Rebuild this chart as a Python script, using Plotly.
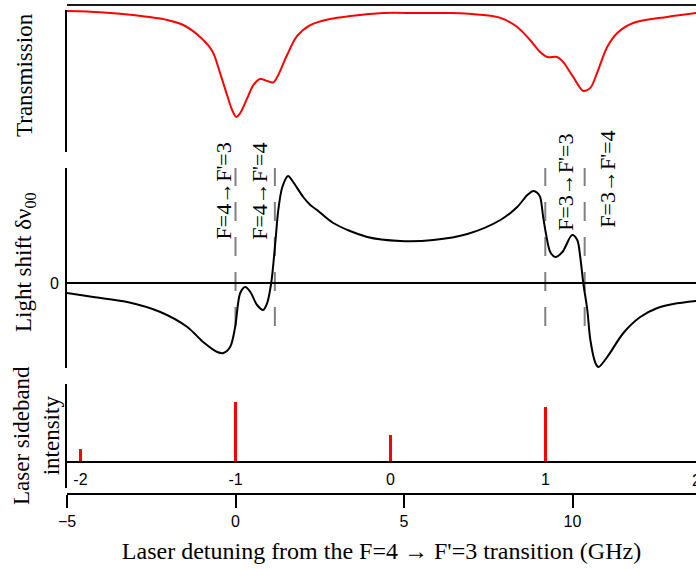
import plotly.graph_objects as go

# ---------------------------------------------------------------- data
# Probe transmission through the Cs cell vs. laser detuning (GHz)
trans_detuning = [-5.0, -4.02, -3.04, -2.03, -1.55, -1.05, -0.69, -0.45, -0.25, -0.10,
                  0.02, 0.14, 0.35, 0.53, 0.73, 0.94, 1.12, 1.27, 1.53, 1.83,
                  2.22, 2.81, 3.40, 4.38, 5.39, 6.37, 7.36, 7.86, 8.36, 8.74,
                  9.04, 9.25, 9.54, 9.72, 10.02, 10.32, 10.53, 10.73, 11.03, 11.33,
                  11.80, 12.81, 13.67]
transmission = [0.995, 0.989, 0.975, 0.951, 0.926, 0.867, 0.798, 0.685, 0.581, 0.507,
                0.473, 0.492, 0.566, 0.630, 0.660, 0.650, 0.643, 0.680, 0.778, 0.872,
                0.926, 0.956, 0.970, 0.985, 0.985, 0.985, 0.975, 0.961, 0.916, 0.852,
                0.793, 0.768, 0.768, 0.744, 0.670, 0.601, 0.616, 0.690, 0.818, 0.887,
                0.936, 0.966, 0.985]

# Light shift of the 0-0 clock transition (arbitrary units)
shift_detuning = [-5.0, -4.22, -3.21, -2.23, -1.43, -0.96, -0.54, -0.36, -0.16, -0.01,
                  0.14, 0.29, 0.44, 0.64, 0.82, 0.94, 1.06, 1.18, 1.27, 1.39,
                  1.56, 1.71, 2.01, 2.22, 2.42, 2.90, 3.91, 4.89, 5.87, 6.88,
                  7.86, 8.36, 8.66, 8.84, 8.96, 9.04, 9.13, 9.22, 9.34, 9.49,
                  9.70, 9.99, 10.14, 10.23, 10.32, 10.44, 10.53, 10.68, 10.77, 11.03,
                  11.51, 12.01, 12.52, 12.99, 13.67]
light_shift = [-0.10, -0.14, -0.19, -0.29, -0.44, -0.59, -0.69, -0.70, -0.64, -0.44,
               -0.10, -0.04, -0.09, -0.22, -0.27, -0.20, 0.00, 0.40, 0.73, 0.96,
               1.07, 1.01, 0.86, 0.78, 0.73, 0.60, 0.46, 0.42, 0.43, 0.49,
               0.63, 0.76, 0.88, 0.92, 0.90, 0.86, 0.66, 0.48, 0.31, 0.26,
               0.31, 0.48, 0.43, 0.26, 0.00, -0.27, -0.57, -0.80, -0.84, -0.74,
               -0.50, -0.34, -0.25, -0.21, -0.18]

# Hyperfine transitions of the Cs D1 line (GHz from F=4 -> F'=3)
transition_names = ["F=4→F'=3", "F=4→F'=4", "F=3→F'=3", "F=3→F'=4"]
transition_freq = [0.0, 1.168, 9.193, 10.361]

# Laser sidebands: carrier offset and modulation frequency (GHz)
carrier_offset = 4.6
modulation_freq = 4.6
sideband_order = [-2, -1, 0, 1]
sideband_intensity = [0.167, 0.773, 0.346, 0.709]
next_order = 2

# ---------------------------------------------------------------- layout helpers
W, H = 696, 569
ML, MR, MT, MB = 67, 0, 0, 75
PH = H - MT - MB
X_RANGE = [-5.0, -5.0 + (W - ML - MR) / 33.7]


def frac(py):
    """Pixel row inside the plot area -> paper fraction."""
    return (PH - py) / PH


Y1_DOM, Y1_RNG = [frac(152), frac(10)], [0.3, 1.0]
Y2_DOM, Y2_RNG = [frac(368), frac(168)], [-0.85, 1.15]
Y3_DOM, Y3_RNG = [frac(488), frac(384)], [-0.333, 1.0]
sideband_axis_pos = Y3_DOM[0] + (0 - Y3_RNG[0]) / (Y3_RNG[1] - Y3_RNG[0]) * (Y3_DOM[1] - Y3_DOM[0])

sideband_pos = [carrier_offset + n * modulation_freq for n in sideband_order]
next_pos = carrier_offset + next_order * modulation_freq

SERIF = "Liberation Serif"
SANS = "Liberation Sans"

fig = go.Figure()

fig.add_trace(go.Scatter(
    x=trans_detuning, y=transmission, xaxis="x", yaxis="y",
    mode="lines", line=dict(color="#ff0000", width=2, shape="spline", smoothing=0.9),
    showlegend=False, hoverinfo="skip"))

fig.add_trace(go.Scatter(
    x=shift_detuning, y=light_shift, xaxis="x", yaxis="y2",
    mode="lines", line=dict(color="black", width=2, shape="spline", smoothing=0.9),
    showlegend=False, hoverinfo="skip"))

fig.add_trace(go.Bar(
    x=sideband_pos, y=sideband_intensity, xaxis="x2", yaxis="y3",
    width=[0.075, 0.105, 0.065, 0.1], marker=dict(color="#ff0000", line=dict(width=0)),
    showlegend=False, hoverinfo="skip"))

# dashed markers at the hyperfine transitions
for f in transition_freq:
    fig.add_shape(type="line", xref="x", yref="y2", x0=f, x1=f, y0=1.16, y1=-0.44,
                  line=dict(color="#808080", width=2, dash="19px,16px"), layer="below")

label_shift = [-13, -16, 20, 22]
label_y = [0.92, 0.92, 1.005, 1.04]
for name, f, dx, yy in zip(transition_names, transition_freq, label_shift, label_y):
    fig.add_annotation(x=f, y=yy, xref="x", yref="y2", text=name, textangle=-90,
                       xanchor="center", yanchor="middle",
                       showarrow=False, xshift=dx, font=dict(family=SERIF, size=22, color="black"))

# reference line above the transmission trace
fig.add_shape(type="line", xref="paper", yref="paper", x0=0, x1=1, y0=frac(5), y1=frac(5),
              line=dict(color="#1a1a1a", width=2))

# y-axis titles
ytitle_font = dict(family=SERIF, size=23, color="black")
fig.add_annotation(text="Transmission", x=0, y=0.5, xref="paper", yref="y domain",
                   xanchor="center", yanchor="middle",
                   xshift=-43, yshift=6, textangle=-90, showarrow=False, font=ytitle_font)
fig.add_annotation(text="Light shift δν<sub>00</sub>", x=0, y=0.5, xref="paper", yref="y2 domain",
                   xanchor="center", yanchor="middle",
                   xshift=-42, yshift=6, textangle=-90, showarrow=False, font=ytitle_font)
fig.add_annotation(text="Laser sideband<br>intensity", x=0, y=0.5, xref="paper", yref="y3 domain",
                   xanchor="center", yanchor="middle",
                   xshift=-31, yshift=0, textangle=-90, showarrow=False, font=ytitle_font)

# label of the next sideband order, kept just inside the right edge
fig.add_annotation(text=str(next_order), xref="paper", yref="paper",
                   x=(next_pos - X_RANGE[0]) / (X_RANGE[1] - X_RANGE[0]), y=sideband_axis_pos,
                   xanchor="center", yanchor="top", xshift=-4, yshift=-8, showarrow=False,
                   font=dict(family=SANS, size=16, color="black"))

axis_line = dict(showline=True, linecolor="black", linewidth=2, showgrid=False, zeroline=False)

fig.update_layout(
    width=W, height=H,
    margin=dict(l=ML, r=MR, t=MT, b=MB, pad=0),
    paper_bgcolor="white", plot_bgcolor="white",
    bargap=0,
    xaxis=dict(range=X_RANGE, anchor="free", position=0, **axis_line,
               ticks="outside", ticklen=13, tickwidth=2, tickcolor="black",
               tickvals=[-5, 0, 5, 10], tickfont=dict(family=SANS, size=16, color="black"),
               title=dict(text="Laser detuning from the F=4 → F'=3 transition (GHz)",
                          font=dict(family=SERIF, size=24, color="black"), standoff=12)),
    xaxis2=dict(range=X_RANGE, anchor="free", position=sideband_axis_pos, **axis_line,
                ticks="outside", ticklen=3, tickcolor="rgba(0,0,0,0)",
                tickvals=sideband_pos, ticktext=[str(n) for n in sideband_order],
                tickfont=dict(family=SANS, size=16, color="black")),
    yaxis=dict(domain=Y1_DOM, range=Y1_RNG, anchor="x", **axis_line,
               showticklabels=False, ticks=""),
    yaxis2=dict(domain=Y2_DOM, range=Y2_RNG, anchor="x", showline=True, linecolor="black",
                linewidth=2, showgrid=False, zeroline=True, zerolinecolor="black",
                zerolinewidth=2, ticks="outside", ticklen=3, tickcolor="rgba(0,0,0,0)",
                tickvals=[0], ticktext=["0"], tickfont=dict(family=SANS, size=16, color="black")),
    yaxis3=dict(domain=Y3_DOM, range=Y3_RNG, anchor="x2", **axis_line,
                showticklabels=False, ticks=""),
)

fig.write_html("out.html")
